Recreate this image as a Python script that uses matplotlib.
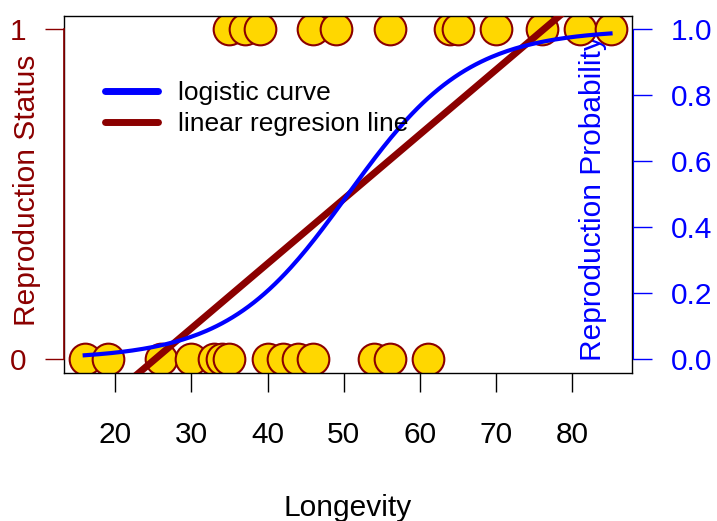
import numpy as np
import matplotlib.pyplot as plt
from matplotlib.lines import Line2D

plt.rcParams['font.family'] = ['Liberation Sans', 'DejaVu Sans']

# longevity of animals that did not / did reproduce
longevity_0 = [16, 19, 26, 30, 33, 34, 35, 40, 42, 44, 46, 54, 56, 61]
longevity_1 = [35, 37, 39, 46, 49, 56, 64, 65, 70, 76, 81, 85]
xticks = [20, 30, 40, 50, 60, 70, 80]
yticks_right = [0.0, 0.2, 0.4, 0.6, 0.8, 1.0]

# fitted coefficients
logit_b0, logit_b1 = -6.42, 0.127      # logistic curve
lin_b0, lin_b1 = -0.494, 0.0196        # linear regression line

x = np.array(longevity_0 + longevity_1, dtype=float)
y = np.array([0] * len(longevity_0) + [1] * len(longevity_1), dtype=float)

fs = 21.5
fig = plt.figure(figsize=(7.17, 5.21), dpi=100)
ax = fig.add_axes([0.0888, 0.285, 0.792, 0.684])
xmin, xmax = x.min(), x.max()
pad = 0.04 * (xmax - xmin)
ax.set_xlim(xmin - pad, xmax + pad)
ax.set_ylim(-0.04, 1.04)

ax.text(0.932, 0.49, 'Reproduction Probability', transform=ax.transAxes,
        rotation=90, ha='center', va='center', color='blue', fontsize=fs, zorder=1)

ax.scatter(x, y, s=520, facecolor='gold', edgecolor='darkred', linewidth=1.5, zorder=2)

xs = np.linspace(xmin, xmax, 200)
ax.plot(xs, 1 / (1 + np.exp(-(logit_b0 + logit_b1 * xs))), color='blue', lw=3, zorder=4)
xl = np.array(ax.get_xlim())
ax.plot(xl, lin_b0 + lin_b1 * xl, color='darkred', lw=5, zorder=3)
ax.set_xlim(xl)

for s in ax.spines.values():
    s.set_color('black')
    s.set_linewidth(1)

ax.set_xticks(xticks)
ax.tick_params(axis='x', length=14, width=1, labelsize=fs, pad=21)
ax.set_yticks([0, 1])
ax.tick_params(axis='y', length=14, width=1, labelsize=fs, pad=13, colors='darkred')
ax.set_xlabel('Longevity', fontsize=fs, labelpad=32)
ax.set_ylabel('Reproduction Status', fontsize=fs, color='darkred')
ax.yaxis.set_label_coords(-0.040, 0.512)

# left axis line in dark red
ax.plot([0, 0], [0, 1], transform=ax.get_yaxis_transform(), color='darkred',
        lw=1.2, clip_on=False, zorder=5)

ax2 = ax.twinx()
ax2.set_ylim(-0.04, 1.04)
for k in ['top', 'bottom', 'left']:
    ax2.spines[k].set_visible(False)
ax2.spines['right'].set_color('blue')
ax2.spines['right'].set_bounds(0, 1)
ax2.spines['right'].set_position(('outward', 1))
ax2.set_yticks(yticks_right)
ax2.set_yticklabels([f'{v:.1f}' for v in yticks_right])
ax2.tick_params(axis='y', length=14, width=1, labelsize=fs, pad=13, colors='blue')

handles = [Line2D([], [], color='blue', lw=5, solid_capstyle='round'),
           Line2D([], [], color='darkred', lw=5, solid_capstyle='round')]
leg = ax.legend(handles, ['logistic curve', 'linear regresion line'], frameon=False,
                loc='upper left', bbox_to_anchor=(0.0727, 0.818), fontsize=19,
                handlelength=2.0, handletextpad=0.76, labelspacing=0.26,
                borderpad=0, borderaxespad=0)
leg.set_zorder(6)

fig.savefig('out.png', dpi=100)
